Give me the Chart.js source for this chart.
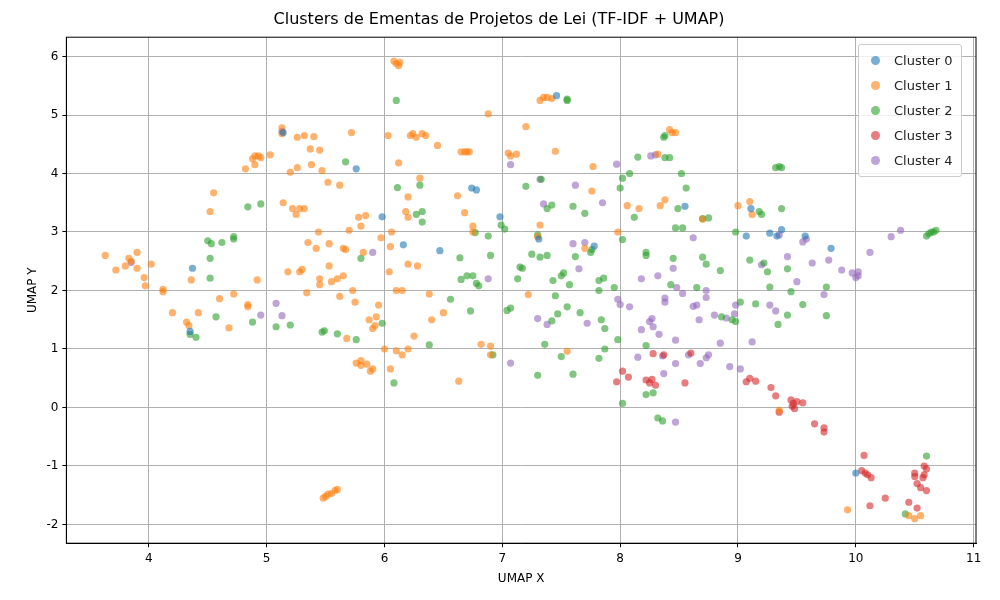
<!DOCTYPE html>
<html>
<head>
<meta charset="utf-8">
<script src="https://cdn.jsdelivr.net/npm/chart.js@4.4.0/dist/chart.umd.min.js"></script>
<style>
  body { margin: 0; background: #fff; font-family: "DejaVu Sans", sans-serif; }
  #wrap { position: relative; width: 1000px; height: 600px; }
  #legend { position: absolute; left: 858px; top: 44px; background: rgba(255,255,255,0.8);
    border: 1px solid #ccc; border-radius: 3px; padding: 3px 8px 3px 6px; font-size: 13px; color: #222; }
  #legend div { height: 25px; line-height: 25px; display: flex; align-items: center; }
  #legend span.dot { width: 9px; height: 9px; border-radius: 50%; display: inline-block; margin: 0 14px 0 6px; }
</style>
</head>
<body>
<div id="wrap">
  <canvas id="c" width="1000" height="600"></canvas>
  <div id="legend"></div>
</div>
<script>
// pontos (UMAP X, UMAP Y)
const cluster0 = [[4.37,2.38],[4.35,1.3],[5.76,4.08],[5.98,3.26],[6.16,2.78],[6.47,2.68],[6.74,3.75],[6.78,3.72],[6.98,3.26],[7.31,2.88],[7.46,5.33],[7.78,2.76],[8.55,3.44],[9.07,2.93],[9.11,3.4],[9.27,2.98],[9.33,2.93],[9.37,3.04],[9.57,2.93],[9.79,2.72],[10.0,-1.12],[5.14,4.7]];

const cluster1 = [[3.63,2.6],[3.72,2.35],[3.8,2.42],[3.85,2.5],[3.83,2.55],[3.9,2.65],[3.9,2.38],[3.96,2.22],[3.97,2.08],[4.02,2.45],[4.12,1.98],[4.12,2.02],[4.2,1.62],[4.32,1.46],[4.34,1.4],[4.36,2.18],[4.42,1.62],[4.52,3.35],[4.55,3.67],[4.6,1.86],[4.68,1.36],[4.72,1.94],[4.82,4.08],[4.84,1.76],[4.84,1.72],[4.88,4.25],[4.9,4.3],[4.9,4.15],[4.92,2.18],[4.95,4.27],[4.93,4.3],[5.03,4.32],[5.13,4.78],[5.13,4.68],[5.14,3.5],[5.18,2.32],[5.2,4.02],[5.22,3.4],[5.25,3.3],[5.26,4.1],[5.26,4.62],[5.28,3.4],[5.28,2.32],[5.3,2.36],[5.32,3.4],[5.32,4.65],[5.34,1.96],[5.35,2.82],[5.37,4.42],[5.38,4.15],[5.4,4.63],[5.42,2.72],[5.44,3.0],[5.45,4.4],[5.45,2.2],[5.45,2.1],[5.47,4.05],[5.48,-1.55],[5.5,-1.52],[5.52,-1.48],[5.55,-1.47],[5.58,-1.42],[5.6,-1.4],[5.52,3.85],[5.53,2.8],[5.53,2.42],[5.55,2.15],[5.6,2.2],[5.62,3.8],[5.62,1.9],[5.65,2.25],[5.65,2.72],[5.67,2.7],[5.68,1.18],[5.7,3.03],[5.72,4.7],[5.73,2.0],[5.75,1.8],[5.76,0.76],[5.78,3.25],[5.8,0.8],[5.8,0.72],[5.8,3.1],[5.82,2.65],[5.84,3.28],[5.85,0.74],[5.87,1.5],[5.88,0.62],[5.9,0.66],[5.9,1.35],[5.92,1.4],[5.93,1.55],[5.95,1.75],[5.97,2.9],[6.0,1.0],[6.03,4.65],[6.04,2.32],[6.05,2.75],[6.05,0.66],[6.06,3.0],[6.08,5.92],[6.1,5.88],[6.12,5.84],[6.13,5.9],[6.1,0.97],[6.1,2.0],[6.12,4.18],[6.15,0.9],[6.15,2.0],[6.18,3.35],[6.2,3.25],[6.2,2.45],[6.2,3.6],[6.2,1.0],[6.22,4.65],[6.24,4.68],[6.27,4.62],[6.25,1.22],[6.28,2.42],[6.3,3.92],[6.32,4.68],[6.35,4.65],[6.38,1.94],[6.4,1.5],[6.45,4.48],[6.5,1.62],[6.63,0.45],[6.62,3.62],[6.65,4.37],[6.68,4.37],[6.7,4.37],[6.72,4.37],[6.68,3.33],[6.75,3.1],[6.75,3.0],[6.82,1.08],[6.88,5.02],[6.9,1.05],[6.9,0.9],[7.05,4.35],[7.07,4.3],[7.12,4.33],[7.2,4.8],[7.22,1.93],[7.3,2.92],[7.32,3.12],[7.32,5.25],[7.35,5.3],[7.38,5.3],[7.42,5.28],[7.45,4.38],[7.55,0.96],[7.7,2.72],[7.76,3.7],[7.77,4.12],[7.98,3.0],[8.06,3.45],[8.16,3.4],[8.32,4.33],[8.34,3.45],[8.38,3.55],[8.42,4.75],[8.44,4.7],[8.47,4.7],[8.7,3.22],[9.0,3.45],[9.1,3.52],[9.12,3.3],[9.35,-0.05],[9.93,-1.75],[10.45,-1.85],[10.5,-1.9],[10.55,-1.85]];

const cluster2 = [[4.35,1.25],[4.4,1.2],[4.5,2.85],[4.53,2.8],[4.52,2.55],[4.52,2.21],[4.57,1.55],[4.62,2.82],[4.72,2.88],[4.72,2.92],[4.84,3.43],[4.88,1.46],[4.95,3.48],[5.08,1.38],[5.2,1.41],[5.47,1.29],[5.49,1.31],[5.6,1.26],[5.67,4.2],[5.76,1.16],[5.8,2.55],[5.98,1.44],[6.08,0.42],[6.1,5.25],[6.11,3.76],[6.27,3.3],[6.3,3.8],[6.32,3.35],[6.32,3.17],[6.38,1.07],[6.56,1.85],[6.64,2.56],[6.65,2.19],[6.7,2.25],[6.75,2.25],[6.78,2.12],[6.73,1.65],[6.77,2.99],[6.8,2.08],[6.88,2.93],[6.9,2.6],[6.92,0.9],[6.99,3.12],[7.02,3.05],[7.04,1.66],[7.07,1.7],[7.13,2.2],[7.15,2.4],[7.17,2.38],[7.2,3.78],[7.25,2.62],[7.3,0.55],[7.3,2.95],[7.32,2.57],[7.33,3.9],[7.36,1.08],[7.38,3.4],[7.42,3.46],[7.38,2.6],[7.42,1.48],[7.43,2.17],[7.45,1.91],[7.47,1.6],[7.5,2.25],[7.52,2.3],[7.5,0.87],[7.55,1.72],[7.57,2.1],[7.55,5.27],[7.55,5.25],[7.6,0.57],[7.6,3.44],[7.62,2.58],[7.66,1.62],[7.7,3.32],[7.75,2.65],[7.76,2.7],[7.82,2.17],[7.82,2.0],[7.82,0.84],[7.84,1.5],[7.87,1.0],[7.86,2.21],[7.87,1.35],[7.95,2.05],[7.98,1.16],[8.0,3.75],[8.02,3.92],[8.02,2.87],[8.02,0.07],[8.08,4.0],[8.12,3.25],[8.15,4.28],[8.22,2.6],[8.22,2.65],[8.22,0.22],[8.22,1.06],[8.28,0.25],[8.32,-0.18],[8.36,-0.23],[8.37,4.62],[8.38,4.65],[8.38,4.27],[8.42,4.27],[8.43,2.1],[8.45,2.55],[8.47,3.07],[8.49,3.4],[8.52,4.0],[8.53,3.07],[8.56,3.75],[8.65,2.05],[8.7,2.57],[8.7,3.23],[8.73,2.45],[8.75,3.24],[8.85,2.34],[8.86,1.55],[8.95,1.5],[8.98,1.47],[8.98,3.0],[9.02,1.8],[9.1,2.52],[9.15,1.77],[9.18,3.35],[9.2,3.3],[9.22,2.47],[9.25,2.32],[9.27,2.06],[9.32,4.1],[9.35,4.12],[9.37,4.1],[9.37,3.4],[9.34,1.42],[9.42,1.58],[9.42,2.37],[9.45,1.98],[9.55,1.76],[9.75,2.06],[9.75,1.57],[10.42,-1.82],[10.6,2.93],[10.62,2.97],[10.64,3.0],[10.66,3.0],[10.68,3.03],[10.6,-0.83]];

const cluster3 = [[7.97,0.44],[8.02,0.62],[8.07,0.52],[8.22,0.47],[8.25,0.42],[8.27,0.48],[8.28,0.92],[8.3,0.38],[8.37,0.9],[8.55,0.42],[8.6,0.93],[9.07,0.44],[9.1,0.5],[9.15,0.45],[9.28,0.34],[9.32,0.2],[9.35,-0.08],[9.45,0.13],[9.46,0.02],[9.47,0.07],[9.48,-0.02],[9.5,0.1],[9.55,0.08],[9.65,-0.28],[9.73,-0.42],[9.73,-0.35],[10.07,-0.82],[10.05,-1.08],[10.08,-1.12],[10.1,-1.15],[10.12,-1.68],[10.13,-1.2],[10.25,-1.55],[10.45,-1.62],[10.5,-1.12],[10.5,-1.18],[10.52,-1.3],[10.55,-1.37],[10.57,-1.2],[10.58,-1.15],[10.6,-1.42],[10.6,-1.05],[10.58,-1.0],[10.52,-1.72]];

const cluster4 = [[3.85,2.48],[4.95,1.58],[5.08,1.78],[5.13,1.57],[5.13,4.72],[5.9,2.65],[6.88,2.2],[7.07,4.15],[7.07,0.76],[7.32,3.9],[7.3,1.52],[7.35,3.48],[7.38,1.42],[7.6,2.8],[7.62,3.8],[7.65,2.37],[7.7,2.82],[7.72,1.44],[7.85,3.5],[7.97,4.16],[7.98,1.85],[8.0,1.76],[8.08,1.72],[8.15,0.86],[8.18,2.2],[8.18,1.33],[8.25,1.47],[8.27,1.52],[8.28,1.38],[8.26,4.3],[8.3,4.32],[8.32,2.25],[8.33,1.25],[8.36,0.88],[8.37,0.58],[8.38,1.8],[8.38,1.87],[8.45,2.38],[8.47,1.15],[8.47,0.75],[8.47,-0.25],[8.48,2.05],[8.53,1.95],[8.58,0.9],[8.62,1.73],[8.62,2.9],[8.65,1.75],[8.67,1.5],[8.68,0.75],[8.73,0.85],[8.73,1.88],[8.73,2.0],[8.75,0.9],[8.8,1.58],[8.85,1.1],[8.9,1.53],[8.93,0.7],[8.97,1.6],[8.98,1.75],[9.02,0.66],[9.12,1.12],[9.2,2.44],[9.27,1.75],[9.32,1.65],[9.35,2.95],[9.42,2.58],[9.5,2.15],[9.55,2.83],[9.58,2.88],[9.63,2.47],[9.73,1.93],[9.77,2.52],[9.88,2.35],[9.97,2.3],[10.0,2.22],[10.02,2.32],[10.02,2.25],[10.12,2.65],[10.3,2.92],[10.38,3.03]];

const clusterNames = ['Cluster 0', 'Cluster 1', 'Cluster 2', 'Cluster 3', 'Cluster 4'];
const clusterColors = ['31,119,180', '255,127,14', '44,160,44', '214,39,40', '148,103,189'];
const xTicks = [4, 5, 6, 7, 8, 9, 10, 11];
const yTicks = [-2, -1, 0, 1, 2, 3, 4, 5, 6];

const allClusters = [cluster0, cluster1, cluster2, cluster3, cluster4];

const datasets = allClusters.map((pts, i) => ({
    label: clusterNames[i],
    data: pts.map(p => ({ x: p[0], y: p[1] })),
    backgroundColor: `rgba(${clusterColors[i]},0.6)`,
    borderColor: `rgba(${clusterColors[i]},0.6)`,
    borderWidth: 0,
    pointRadius: 3.6
}));

// legenda em html, dentro do gráfico (canto superior direito)
const legend = document.getElementById('legend');
clusterNames.forEach((name, i) => {
    const row = document.createElement('div');
    row.innerHTML = `<span class="dot" style="background:rgba(${clusterColors[i]},0.6)"></span>${name}`;
    legend.appendChild(row);
});

// moldura completa, como no matplotlib
const frame = {
    id: 'frame',
    afterDraw(chart) {
        const { ctx, chartArea: a } = chart;
        ctx.save();
        ctx.strokeStyle = '#000';
        ctx.lineWidth = 1;
        ctx.strokeRect(a.left, a.top, a.right - a.left, a.bottom - a.top);
        ctx.restore();
    }
};

const tickFont = { family: 'DejaVu Sans', size: 12 };

new Chart(document.getElementById('c'), {
    type: 'scatter',
    data: { datasets },
    plugins: [frame],
    options: {
        responsive: false,
        animation: false,
        layout: { padding: { left: 22, right: 24, top: 0, bottom: 10 } },
        plugins: {
            legend: { display: false },
            tooltip: { enabled: false },
            title: {
                display: true,
                text: 'Clusters de Ementas de Projetos de Lei (TF-IDF + UMAP)',
                color: '#000',
                font: { family: 'DejaVu Sans', size: 16, weight: 'normal' },
                padding: { top: 10, bottom: 8 }
            }
        },
        scales: {
            x: {
                min: 3.3, max: 11.02,
                afterBuildTicks: axis => { axis.ticks = xTicks.map(v => ({ value: v })); },
                ticks: { color: '#000', font: tickFont, padding: 4 },
                grid: { color: '#b0b0b0', lineWidth: 1, tickLength: 4, tickColor: '#000' },
                border: { color: '#000' },
                title: { display: true, text: 'UMAP X', color: '#000', font: tickFont, padding: { top: 2 } }
            },
            y: {
                min: -2.32, max: 6.33,
                afterBuildTicks: axis => { axis.ticks = yTicks.map(v => ({ value: v })); },
                ticks: { color: '#000', font: tickFont, padding: 4 },
                grid: { color: '#b0b0b0', lineWidth: 1, tickLength: 4, tickColor: '#000' },
                border: { color: '#000' },
                title: { display: true, text: 'UMAP Y', color: '#000', font: tickFont, padding: { bottom: 2 } }
            }
        }
    }
});
</script>
</body>
</html>
